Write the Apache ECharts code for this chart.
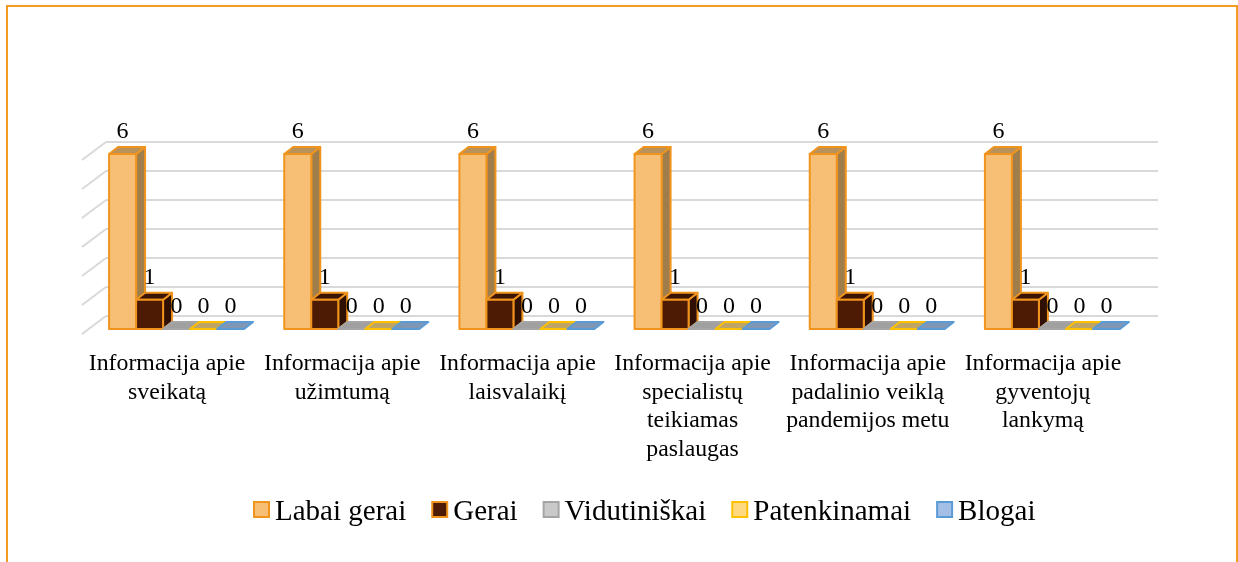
<!DOCTYPE html>
<html>
<head>
<meta charset="utf-8">
<style>
  html, body { margin: 0; padding: 0; background: #fff; }
  #chart { width: 1238px; height: 562px; }
</style>
</head>
<body>
<div id="chart"></div>
<script src="https://cdn.jsdelivr.net/npm/echarts@6/dist/echarts.min.js"></script>
<script>
const categories = [
  'Informacija apie\nsveikatą',
  'Informacija apie\nužimtumą',
  'Informacija apie\nlaisvalaikį',
  'Informacija apie\nspecialistų\nteikiamas\npaslaugas',
  'Informacija apie\npadalinio veiklą\npandemijos metu',
  'Informacija apie\ngyventojų\nlankymą'
]
const labaiGerai = [6, 6, 6, 6, 6, 6]
const gerai = [1, 1, 1, 1, 1, 1]
const vidutiniskai = [0, 0, 0, 0, 0, 0]
const patenkinamai = [0, 0, 0, 0, 0, 0]
const blogai = [0, 0, 0, 0, 0, 0]
const yTicks = [0, 1, 2, 3, 4, 5, 6]

const FONT = '"Liberation Serif", "Times New Roman", serif'
const BAR_W = 27
const DEPTH_X = 9
const DEPTH_Y = 7

// pavadinimas, duomenys, spalvos: priekis, kraštas, šonas, viršus
const seriesDefs = [
  { name: 'Labai gerai', data: labaiGerai, front: '#F7BF76', border: '#F0941E', side: '#A07E4C', top: '#B8925A' },
  { name: 'Gerai', data: gerai, front: '#4D1A04', border: '#F0941E', side: '#2F1003', top: '#3B1403' },
  { name: 'Vidutiniškai', data: vidutiniskai, front: '#C9C9C9', border: '#A5A5A5', side: '#8A8A8A', top: '#A0A0A0' },
  { name: 'Patenkinamai', data: patenkinamai, front: '#FFD97F', border: '#FFC000', side: '#A68C52', top: '#BFA565' },
  { name: 'Blogai', data: blogai, front: '#A4BFE6', border: '#5B9BD5', side: '#6A7C96', top: '#7F97B5' }
]

const chart = echarts.init(document.getElementById('chart'), null, { renderer: 'canvas' })

// pseudo 3D stulpelis: priekis, šonas, viršus ir reikšmės tekstas
const barRenderer = (def, seriesIdx) => (params, api) => {
  const top = api.coord([api.value(0), api.value(1)])
  const base = api.coord([api.value(0), 0])
  const x = top[0] + 7 - (BAR_W * seriesDefs.length) / 2 + seriesIdx * BAR_W
  const yTop = top[1]
  const yBase = base[1]
  const stroke = { stroke: def.border, lineWidth: 2, lineJoin: 'round' }
  const children = []
  if (yBase > yTop) {
    children.push({
      type: 'polygon',
      shape: { points: [[x + BAR_W, yTop], [x + BAR_W + DEPTH_X, yTop - DEPTH_Y], [x + BAR_W + DEPTH_X, yBase - DEPTH_Y], [x + BAR_W, yBase]] },
      style: { fill: def.side, ...stroke }
    })
  }
  children.push({
    type: 'polygon',
    shape: { points: [[x, yTop], [x + DEPTH_X, yTop - DEPTH_Y], [x + BAR_W + DEPTH_X, yTop - DEPTH_Y], [x + BAR_W, yTop]] },
    style: { fill: def.top, ...stroke }
  })
  if (yBase > yTop) {
    children.push({
      type: 'rect',
      shape: { x, y: yTop, width: BAR_W, height: yBase - yTop },
      style: { fill: def.front, ...stroke }
    })
  }
  children.push({
    type: 'text',
    z2: 10,
    style: {
      x: x + BAR_W / 2,
      y: yTop - 10,
      text: String(api.value(1)),
      fill: '#000',
      font: '24px ' + FONT,
      align: 'center',
      verticalAlign: 'bottom'
    }
  })
  return { type: 'group', children }
}

// kairės sienos įstrižainės nuo kiekvienos skalės linijos
const diagonalRenderer = (params, api) => {
  const p = api.coord([0, api.value(0)])
  const left = params.coordSys.x
  return {
    type: 'line',
    shape: { x1: left, y1: p[1], x2: left - 24, y2: p[1] + 18 },
    style: { stroke: '#D9D9D9', lineWidth: 2 }
  }
}

const option = {
  animation: false,
  backgroundColor: '#fff',
  textStyle: { fontFamily: FONT },
  graphic: [{
    type: 'rect',
    silent: true,
    shape: { x: 7, y: 6, width: 1230, height: 620 },
    style: { fill: 'none', stroke: '#F39C21', lineWidth: 2 }
  }],
  legend: {
    left: 248,
    top: 493,
    itemGap: 25,
    itemWidth: 15,
    itemHeight: 15,
    icon: 'rect',
    formatter: name => `{t|${name}}`,
    textStyle: {
      rich: {
        t: { fontFamily: FONT, fontSize: 29, color: '#000', padding: [6, 0, 0, 1] }
      }
    },
    data: seriesDefs.map(d => ({
      name: d.name,
      itemStyle: { color: d.front, borderColor: d.border, borderWidth: 2 }
    }))
  },
  grid: [
    { left: 106, top: 142, width: 1052, height: 174 },
    { left: 82, top: 154, width: 1051, height: 175 }
  ],
  xAxis: [
    {
      gridIndex: 0,
      type: 'category',
      data: categories,
      axisLine: { show: false },
      axisTick: { show: false },
      axisLabel: { show: false }
    },
    {
      gridIndex: 1,
      type: 'category',
      data: categories,
      axisLine: { show: false },
      axisTick: { show: false },
      axisLabel: {
        interval: 0,
        margin: 21,
        fontFamily: FONT,
        fontSize: 23.8,
        lineHeight: 28.4,
        padding: [0, 5, 0, 0],
        color: '#000'
      }
    }
  ],
  yAxis: [
    {
      gridIndex: 0,
      type: 'value',
      min: 0,
      max: 6,
      interval: 1,
      axisLine: { show: false },
      axisTick: { show: false },
      axisLabel: { show: false },
      splitLine: { lineStyle: { color: '#D9D9D9', width: 2 } }
    },
    {
      gridIndex: 1,
      type: 'value',
      min: 0,
      max: 6,
      interval: 1,
      axisLine: { show: false },
      axisTick: { show: false },
      axisLabel: { show: false },
      splitLine: { show: false }
    }
  ],
  series: [
    {
      type: 'custom',
      name: 'skale',
      xAxisIndex: 0,
      yAxisIndex: 0,
      silent: true,
      encode: { y: 0 },
      data: yTicks.map(v => [v]),
      renderItem: diagonalRenderer
    },
    ...seriesDefs.map((def, i) => ({
      type: 'custom',
      name: def.name,
      xAxisIndex: 1,
      yAxisIndex: 1,
      clip: false,
      encode: { x: 0, y: 1 },
      data: def.data.map((v, c) => [c, v]),
      itemStyle: { color: def.front, borderColor: def.border },
      renderItem: barRenderer(def, i)
    }))
  ]
}

chart.setOption(option)
</script>
</body>
</html>
